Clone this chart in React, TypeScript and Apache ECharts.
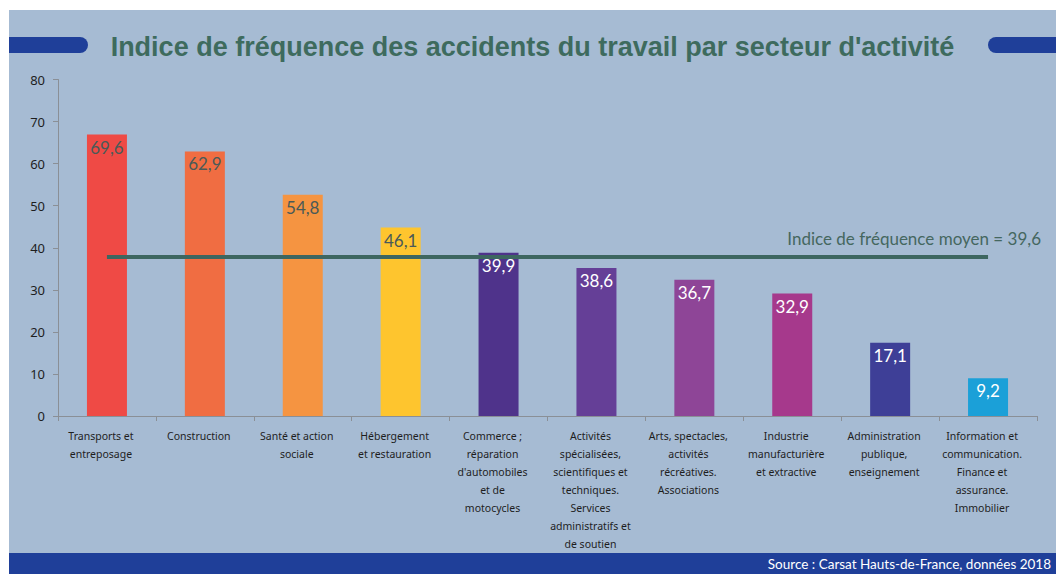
import React, { useEffect, useRef } from "react";
import * as echarts from "echarts";

const categories = [
  "Transports et\nentreposage",
  "Construction",
  "Santé et action\nsociale",
  "Hébergement\net restauration",
  "Commerce ;\nréparation\nd'automobiles\net de\nmotocycles",
  "Activités\nspécialisées,\nscientifiques et\ntechniques.\nServices\nadministratifs et\nde soutien",
  "Arts, spectacles,\nactivités\nrécréatives.\nAssociations",
  "Industrie\nmanufacturière\net extractive",
  "Administration\npublique,\nenseignement",
  "Information et\ncommunication.\nFinance et\nassurance.\nImmobilier",
];

// bar heights as drawn in the picture
const barHeights = [66.9, 62.9, 52.6, 44.8, 38.8, 35.2, 32.4, 29.1, 17.4, 9.0];
// value labels as printed on the bars
const barLabels = ["69,6", "62,9", "54,8", "46,1", "39,9", "38,6", "36,7", "32,9", "17,1", "9,2"];
const barColors = [
  "#EF4A45", "#F06D42", "#F59441", "#FEC52E", "#4F338B",
  "#653F97", "#8E4597", "#A6398C", "#3E3F97", "#1BA0D8",
];
const labelColors = [
  "#4A5A58", "#4A5A58", "#4A5A58", "#4A5A58", "#FFFFFF",
  "#FFFFFF", "#FFFFFF", "#FFFFFF", "#FFFFFF", "#FFFFFF",
];

const meanLevel = 37.9;
const meanLabel = "39,6";
const yTicks = { min: 0, max: 80, interval: 10 };

export default function App() {
  const ref = useRef<HTMLDivElement>(null);

  useEffect(() => {
    if (!ref.current) return;
    const chart = echarts.init(ref.current, null, { renderer: "svg" });
    chart.setOption({
      animation: false,
      backgroundColor: "#A6BBD3",
      title: {
        text: "Indice de fréquence des accidents du travail par secteur d'activité",
        left: "center",
        top: 18,
        textStyle: {
          fontFamily: "Liberation Sans, Arial, sans-serif",
          fontWeight: "bold",
          fontSize: 27,
          color: "#3E6B5E",
        },
      },
      grid: { left: 49, right: 19, top: 69.5, bottom: 158, containLabel: false },
      xAxis: {
        type: "category",
        data: categories,
        axisLine: { show: true, lineStyle: { color: "#8A8F96", width: 1 } },
        axisTick: { show: true, length: 5, lineStyle: { color: "#8A8F96" } },
        axisLabel: {
          interval: 0,
          margin: 11,
          fontSize: 10.5,
          lineHeight: 18,
          color: "#1E1E1E",
          fontFamily: "Noto Sans, sans-serif",
          align: "center",
          padding: [0, 12, 0, 0],
        },
      },
      yAxis: {
        type: "value",
        min: yTicks.min,
        max: yTicks.max,
        interval: yTicks.interval,
        axisLine: { show: true, lineStyle: { color: "#8A8F96", width: 1 } },
        axisTick: { show: true, length: 5, lineStyle: { color: "#8A8F96" } },
        splitLine: { show: false },
        axisLabel: {
          margin: 13,
          fontSize: 13,
          color: "#1E1E1E",
          fontFamily: "Noto Sans, sans-serif",
        },
      },
      series: [
        {
          type: "bar",
          barWidth: 40,
          data: barHeights.map((v, i) => ({
            value: v,
            itemStyle: { color: barColors[i] },
            label: { color: labelColors[i] },
          })),
          label: {
            show: true,
            position: "insideTop",
            distance: 4,
            fontSize: 17,
            fontFamily: "Lato, sans-serif",
            formatter: (p: any) => barLabels[p.dataIndex],
          },
          markLine: {
            silent: true,
            symbol: "none",
            label: { show: false },
            lineStyle: { color: "#3D6660", width: 4, type: "solid" },
            data: [[{ coord: [0, meanLevel] }, { coord: [categories.length - 1, meanLevel] }]],
          },
        },
      ],
      graphic: [
        {
          type: "rect",
          shape: { x: 0, y: 27, width: 79, height: 16, r: [0, 8, 8, 0] },
          style: { fill: "#1F3F99" },
        },
        {
          type: "rect",
          shape: { x: 979, y: 27, width: 68, height: 16, r: [8, 0, 0, 8] },
          style: { fill: "#1F3F99" },
        },
        {
          type: "rect",
          shape: { x: 0, y: 543, width: 1047, height: 21 },
          style: { fill: "#1F3F99" },
        },
        {
          type: "text",
          x: 1042,
          y: 554,
          style: {
            text: "Source : Carsat Hauts-de-France, données 2018",
            fill: "#FFFFFF",
            fontSize: 13.5,
            fontFamily: "Lato, sans-serif",
            align: "right",
            verticalAlign: "middle",
          },
        },
        {
          type: "text",
          x: 1032,
          y: 228,
          style: {
            text: "Indice de fréquence moyen = " + meanLabel,
            fill: "#45675F",
            fontSize: 17,
            fontFamily: "Lato, sans-serif",
            align: "right",
            verticalAlign: "middle",
          },
        },
      ],
    });
    return () => chart.dispose();
  }, []);

  return (
    <div style={{ position: "fixed", left: 0, top: 0, width: 1056, height: 574, background: "#FFFFFF" }}>
      <div ref={ref} style={{ position: "absolute", left: 9, top: 10, width: 1047, height: 564 }} />
    </div>
  );
}
